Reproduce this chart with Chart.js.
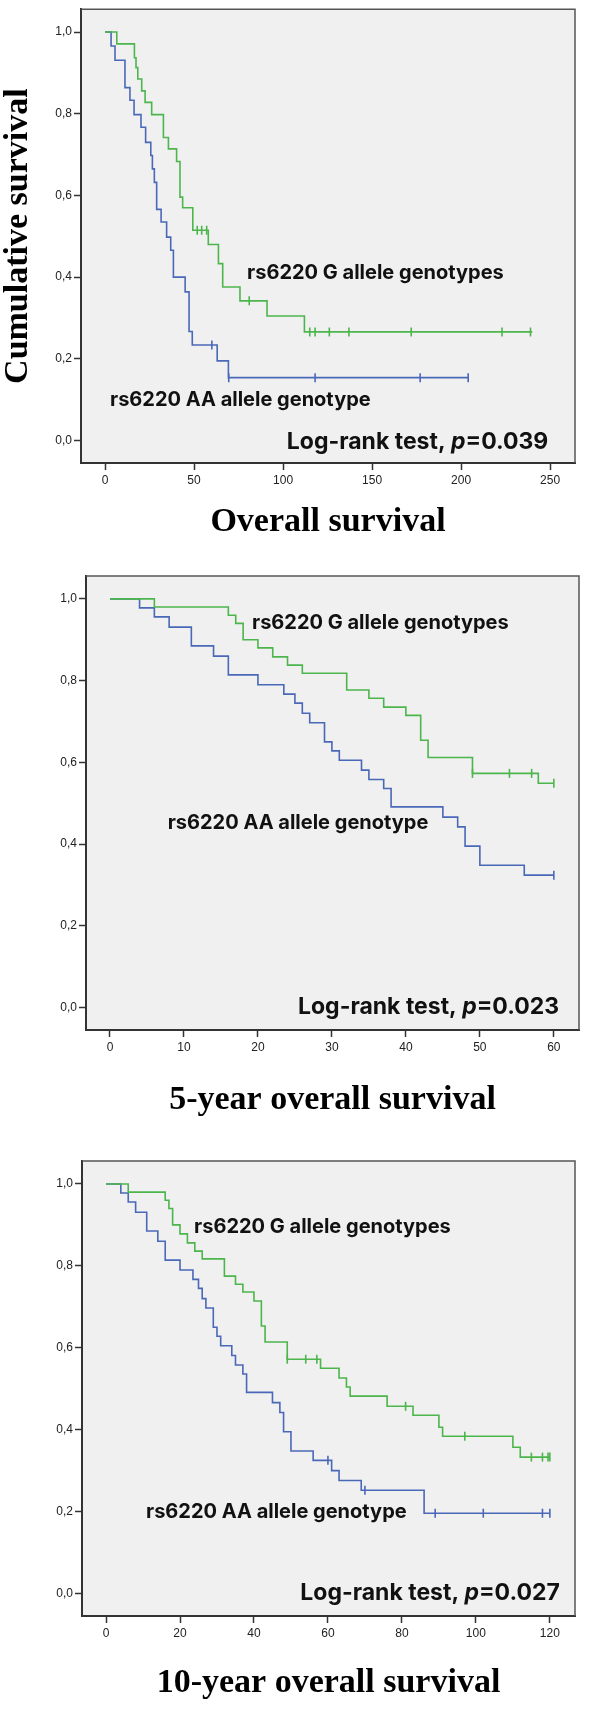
<!DOCTYPE html>
<html>
<head>
<meta charset="utf-8">
<script src="https://cdn.jsdelivr.net/npm/chart.js@4.4.1/dist/chart.umd.min.js"></script>
<style>
  html, body { margin: 0; padding: 0; background: #fff; }
  body { width: 591px; height: 1709px; position: relative; overflow: hidden; }
  canvas { position: absolute; left: 0; }
</style>
</head>
<body>
<canvas id="os" width="591" height="545" style="top:0"></canvas>
<canvas id="os5" width="591" height="585" style="top:545px"></canvas>
<canvas id="os10" width="591" height="579" style="top:1130px"></canvas>
<script>
const GREEN = '#4cb54c';
const BLUE = '#4a68b8';

const yTicks = [0, 0.2, 0.4, 0.6, 0.8, 1.0];

// Overall survival (months)
const osTicks = [0, 50, 100, 150, 200, 250];
const osGreenTime = [0, 6.6, 16.5, 17.4, 18.4, 20.6, 22.5, 26.2, 32.8, 35.6, 40.2, 42.1, 43.6, 49.3, 58, 63.7, 66.1, 75.8, 91, 112, 240];
const osGreenSurv = [1.0, 0.971, 0.937, 0.913, 0.885, 0.856, 0.828, 0.798, 0.742, 0.714, 0.683, 0.596, 0.57, 0.515, 0.48, 0.433, 0.376, 0.342, 0.305, 0.266, 0.266];
const osGreenCensTime = [51.8, 54.3, 57.1, 81, 115, 118, 126, 137, 172, 223, 239];
const osGreenCensSurv = [0.515, 0.515, 0.515, 0.342, 0.266, 0.266, 0.266, 0.266, 0.266, 0.266, 0.266];
const osBlueTime = [0, 3.4, 5.6, 11.2, 14, 16.3, 20.2, 22.8, 25.7, 26.6, 27.7, 29, 31.5, 34.6, 36.9, 38.4, 45, 47.2, 49, 63, 69.3, 204];
const osBlueSurv = [1.0, 0.966, 0.931, 0.864, 0.833, 0.798, 0.767, 0.73, 0.698, 0.665, 0.632, 0.566, 0.535, 0.498, 0.466, 0.4, 0.364, 0.267, 0.234, 0.195, 0.154, 0.154];
const osBlueCensTime = [60, 69.5, 118, 177, 204];
const osBlueCensSurv = [0.234, 0.154, 0.154, 0.154, 0.154];

// 5-year overall survival
const y5Ticks = [0, 10, 20, 30, 40, 50, 60];
const y5GreenTime = [0, 6, 16, 17, 18, 20, 22, 24, 26, 32, 35, 37, 40, 42, 43, 49, 57.9, 60];
const y5GreenSurv = [1.0, 0.98, 0.96, 0.94, 0.90, 0.88, 0.858, 0.838, 0.818, 0.777, 0.757, 0.735, 0.715, 0.654, 0.612, 0.573, 0.549, 0.549];
const y5GreenCensTime = [49, 54, 57, 60];
const y5GreenCensSurv = [0.573, 0.573, 0.573, 0.549];
const y5BlueTime = [0, 4, 6, 8, 11, 14, 16, 20, 23.5, 25, 26, 27, 29, 30, 31, 34, 35, 37, 38, 45, 47, 48, 50, 56, 60];
const y5BlueSurv = [1.0, 0.978, 0.956, 0.931, 0.885, 0.86, 0.814, 0.79, 0.767, 0.745, 0.72, 0.697, 0.65, 0.628, 0.605, 0.581, 0.558, 0.536, 0.491, 0.466, 0.442, 0.395, 0.348, 0.324, 0.324];
const y5BlueCensTime = [60];
const y5BlueCensSurv = [0.324];

// 10-year overall survival
const y10Ticks = [0, 20, 40, 60, 80, 100, 120];
const y10GreenTime = [0, 6, 16, 17, 18, 20, 22, 24, 26, 32, 35, 37, 40, 42, 43, 49, 58, 63, 65, 66, 76, 83, 90, 91, 110, 112, 120];
const y10GreenSurv = [1.0, 0.98, 0.96, 0.94, 0.90, 0.878, 0.856, 0.836, 0.817, 0.775, 0.755, 0.736, 0.714, 0.653, 0.614, 0.572, 0.55, 0.526, 0.504, 0.482, 0.457, 0.435, 0.406, 0.384, 0.357, 0.333, 0.333];
const y10GreenCensTime = [49, 54, 57, 81, 97, 115, 118, 119.5, 120];
const y10GreenCensSurv = [0.572, 0.572, 0.572, 0.457, 0.384, 0.333, 0.333, 0.333, 0.333];
const y10BlueTime = [0, 4, 6, 8, 11, 14, 16, 20, 23.5, 25, 26, 27, 29, 30, 31, 34, 35, 37, 38, 45, 47, 48, 50, 56, 61, 63, 69, 86, 120];
const y10BlueSurv = [1.0, 0.978, 0.956, 0.931, 0.885, 0.86, 0.814, 0.79, 0.767, 0.745, 0.72, 0.697, 0.65, 0.628, 0.605, 0.581, 0.558, 0.536, 0.491, 0.466, 0.442, 0.395, 0.348, 0.325, 0.30, 0.276, 0.252, 0.196, 0.196];
const y10BlueCensTime = [60, 70, 89, 102, 118, 120];
const y10BlueCensSurv = [0.325, 0.252, 0.196, 0.196, 0.196, 0.196];

const GROUP_G = 'rs6220 G allele genotypes';
const GROUP_AA = 'rs6220 AA allele genotype';

const toPoints = (xs, ys) => xs.map((x, i) => ({ x: x, y: ys[i] }));

const boxPlugin = {
  id: 'kmBox',
  beforeDraw(chart) {
    const { ctx, chartArea: a } = chart;
    ctx.save();
    ctx.fillStyle = '#f0f0f0';
    ctx.fillRect(a.left, a.top, a.right - a.left, a.bottom - a.top);
    ctx.restore();
  },
  afterDraw(chart, args, opts) {
    const { ctx, chartArea: a, scales } = chart;
    ctx.save();
    ctx.strokeStyle = '#555';
    ctx.lineWidth = 1.5;
    ctx.beginPath();
    ctx.moveTo(a.left, a.top);
    ctx.lineTo(a.right, a.top);
    ctx.lineTo(a.right, a.bottom);
    ctx.stroke();

    // curve labels and log-rank text
    (opts.items || []).forEach(item => {
      const px = scales.x.getPixelForValue(item.x);
      const py = scales.y.getPixelForValue(item.y);
      const fonts = item.parts.map(p => `${p[1]}bold ${item.size}px Inter, "Open Sans", sans-serif`);
      const widths = item.parts.map((p, i) => {
        ctx.font = fonts[i];
        return ctx.measureText(p[0]).width;
      });
      const total = widths.reduce((s, w) => s + w, 0);
      let cx = item.align === 'right' ? px - total : px;
      ctx.fillStyle = '#111';
      ctx.textAlign = 'left';
      ctx.textBaseline = 'middle';
      item.parts.forEach((p, i) => {
        ctx.font = fonts[i];
        ctx.fillText(p[0], cx, py);
        cx += widths[i];
      });
    });
    ctx.restore();
  }
};

function makeChart(id, p) {
  const tickFont = { family: '"Liberation Sans", Arial, sans-serif', size: 12 };
  const titleFont = { family: '"Liberation Serif", "Times New Roman", serif', size: 34, weight: 'bold', lineHeight: 1.1 };

  return new Chart(document.getElementById(id), {
    type: 'line',
    data: {
      datasets: [
        {
          data: toPoints(p.greenTime, p.greenSurv),
          borderColor: GREEN, borderWidth: 1.6, pointRadius: 0, stepped: true, fill: false
        },
        {
          data: toPoints(p.blueTime, p.blueSurv),
          borderColor: BLUE, borderWidth: 1.6, pointRadius: 0, stepped: true, fill: false
        },
        {
          data: toPoints(p.greenCensTime, p.greenCensSurv),
          showLine: false, pointStyle: 'line', rotation: 90, pointRadius: 4.5,
          borderColor: GREEN, pointBorderWidth: 1.6
        },
        {
          data: toPoints(p.blueCensTime, p.blueCensSurv),
          showLine: false, pointStyle: 'line', rotation: 90, pointRadius: 4.5,
          borderColor: BLUE, pointBorderWidth: 1.6
        }
      ]
    },
    options: {
      responsive: false,
      animation: false,
      devicePixelRatio: 1,
      layout: { padding: { left: 0, top: p.top, right: p.right, bottom: 0 } },
      plugins: {
        legend: { display: false },
        tooltip: { enabled: false },
        kmBox: { items: p.items }
      },
      scales: {
        x: {
          type: 'linear',
          min: p.xMin,
          max: p.xMax,
          afterBuildTicks: s => { s.ticks = p.xTicks.map(v => ({ value: v })); },
          afterFit: s => { s.height = p.xAxisH; },
          ticks: { font: tickFont, color: '#222', padding: 3, maxRotation: 0, autoSkip: false },
          grid: { drawOnChartArea: false, drawTicks: true, tickLength: 7, tickColor: '#333', tickWidth: 1.5 },
          border: { display: true, color: '#333', width: 2 },
          title: { display: true, text: p.xTitle, color: '#000', font: titleFont, padding: { top: 0, bottom: p.xTitlePad } }
        },
        y: {
          type: 'linear',
          min: -0.055,
          max: 1.056,
          afterBuildTicks: s => { s.ticks = yTicks.map(v => ({ value: v })); },
          afterFit: s => { s.width = p.yAxisW; },
          ticks: {
            font: tickFont, color: '#222', padding: 2,
            callback: v => v.toFixed(1).replace('.', ',')
          },
          grid: { drawOnChartArea: false, drawTicks: true, tickLength: 7, tickColor: '#333', tickWidth: 1.5 },
          border: { display: true, color: '#333', width: 2 },
          title: { display: !!p.yTitle, text: p.yTitle || '', color: '#000', font: titleFont, padding: { top: 0, bottom: 0 } }
        }
      }
    },
    plugins: [boxPlugin]
  });
}

makeChart('os', {
  greenTime: osGreenTime, greenSurv: osGreenSurv,
  greenCensTime: osGreenCensTime, greenCensSurv: osGreenCensSurv,
  blueTime: osBlueTime, blueSurv: osBlueSurv,
  blueCensTime: osBlueCensTime, blueCensSurv: osBlueCensSurv,
  xMin: -13.5, xMax: 264, xTicks: osTicks,
  top: 9, right: 16, yAxisW: 81, xAxisH: 82, xTitlePad: 4,
  xTitle: 'Overall survival', yTitle: 'Cumulative survival',
  items: [
    { parts: [[GROUP_G, '']], x: 79.8, y: 0.41, size: 20 },
    { parts: [[GROUP_AA, '']], x: 2.8, y: 0.10, size: 20 },
    { parts: [['Log-rank test, ', ''], ['p', 'italic '], ['=0.039', '']], x: 249, y: -0.005, size: 23, align: 'right' }
  ]
});

makeChart('os5', {
  greenTime: y5GreenTime, greenSurv: y5GreenSurv,
  greenCensTime: y5GreenCensTime, greenCensSurv: y5GreenCensSurv,
  blueTime: y5BlueTime, blueSurv: y5BlueSurv,
  blueCensTime: y5BlueCensTime, blueCensSurv: y5BlueCensSurv,
  xMin: -3.24, xMax: 63.4, xTicks: y5Ticks,
  top: 31, right: 12, yAxisW: 86, xAxisH: 100, xTitlePad: 11,
  xTitle: '5-year overall survival',
  items: [
    { parts: [[GROUP_G, '']], x: 19.2, y: 0.941, size: 20 },
    { parts: [[GROUP_AA, '']], x: 7.8, y: 0.451, size: 20 },
    { parts: [['Log-rank test, ', ''], ['p', 'italic '], ['=0.023', '']], x: 60.7, y: 0.0, size: 23, align: 'right' }
  ]
});

makeChart('os10', {
  greenTime: y10GreenTime, greenSurv: y10GreenSurv,
  greenCensTime: y10GreenCensTime, greenCensSurv: y10GreenCensSurv,
  blueTime: y10BlueTime, blueSurv: y10BlueSurv,
  blueCensTime: y10BlueCensTime, blueCensSurv: y10BlueCensSurv,
  xMin: -6.5, xMax: 126.8, xTicks: y10Ticks,
  top: 31, right: 16, yAxisW: 82, xAxisH: 93, xTitlePad: 7,
  xTitle: '10-year overall survival',
  items: [
    { parts: [[GROUP_G, '']], x: 23.8, y: 0.895, size: 20 },
    { parts: [[GROUP_AA, '']], x: 10.8, y: 0.198, size: 20 },
    { parts: [['Log-rank test, ', ''], ['p', 'italic '], ['=0.027', '']], x: 122.7, y: 0.0, size: 23, align: 'right' }
  ]
});
</script>
</body>
</html>
